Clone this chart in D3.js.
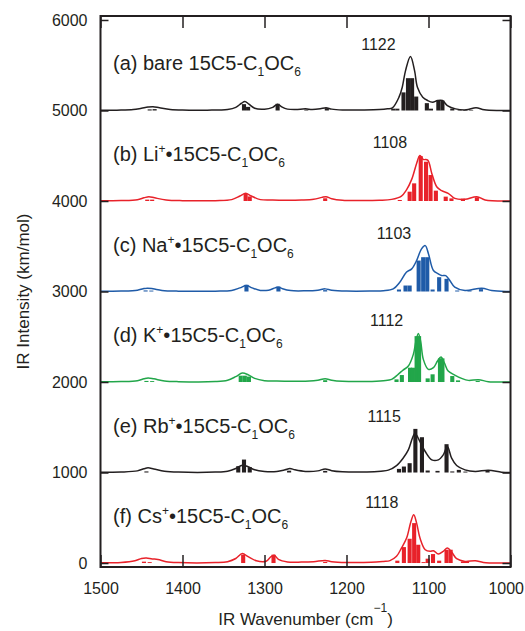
<!DOCTYPE html>
<html>
<head>
<meta charset="utf-8">
<script src="https://cdn.jsdelivr.net/npm/d3@7"></script>
<style>
  html, body { margin: 0; padding: 0; background: #fff; }
  svg { display: block; font-family: "Liberation Sans", Arial, Helvetica, sans-serif; }
</style>
</head>
<body>
<svg id="chart" width="525" height="631"></svg>
<script>
// Axis ticks
const wavenumberTicks = [1500, 1400, 1300, 1200, 1100, 1000];
const intensityTicks = [0, 1000, 2000, 3000, 4000, 5000, 6000];

// Panels, stacked with a vertical offset each
const panelLetters = ["a", "b", "c", "d", "e", "f"];
const panelIons = [null, "Li", "Na", "K", "Rb", "Cs"];
const panelOffsets = [5000, 4000, 3000, 2000, 1000, 0];
const peakLabels = [1122, 1108, 1103, 1112, 1115, 1118];

// Broadened spectra: [wavenumber (cm-1), intensity (km/mol)]
const curveA = [[1500,2],[1480,4],[1460,10],[1450,25],[1442,38],[1436,42],[1428,30],[1415,12],[1400,5],[1370,4],[1345,12],[1335,35],[1328,80],[1324,100],[1319,70],[1312,25],[1300,15],[1290,35],[1284,70],[1279,40],[1272,15],[1262,10],[1250,18],[1242,10],[1232,18],[1225,30],[1218,15],[1205,6],[1180,6],[1160,10],[1150,18],[1144,29],[1136,147],[1132,257],[1128,441],[1122,596],[1117,441],[1113.5,257],[1107,147],[1101,110],[1095,92],[1089,110],[1083,110],[1077,55],[1067,18],[1054,7],[1042,29],[1032,7],[1013,0],[1000,0]];
const curveB = [[1500,2],[1475,5],[1455,15],[1447,35],[1441,48],[1434,35],[1420,12],[1400,4],[1360,4],[1340,15],[1330,55],[1323,85],[1316,55],[1305,15],[1290,10],[1275,8],[1255,10],[1240,18],[1230,40],[1225,48],[1218,25],[1205,8],[1180,5],[1160,8],[1145,18],[1133,55],[1127,121],[1120.5,239],[1114.5,415],[1110.5,504],[1106.5,460],[1101,452],[1096,305],[1090,158],[1084,114],[1076,85],[1068,29],[1055.5,18],[1041,48],[1031,11],[1003,0],[1000,0]];
const curveC = [[1500,2],[1475,5],[1455,15],[1448,30],[1443,37],[1436,30],[1425,12],[1405,4],[1360,4],[1340,12],[1330,40],[1322,66],[1315,40],[1305,12],[1295,15],[1287,40],[1283,48],[1278,30],[1268,10],[1250,8],[1235,15],[1226,29],[1218,15],[1200,5],[1170,5],[1155,8],[1143,29],[1135,103],[1127,213],[1120.5,250],[1114.5,342],[1108.5,471],[1104,507],[1100,415],[1094,232],[1088,195],[1084,176],[1079,176],[1074,121],[1068,48],[1055.5,11],[1035,37],[1023,11],[1005,0],[1000,0]];
const curveD = [[1500,2],[1475,5],[1455,15],[1447,35],[1442,44],[1435,35],[1422,12],[1405,4],[1360,5],[1345,20],[1335,60],[1327,99],[1320,80],[1312,40],[1300,15],[1285,10],[1265,8],[1245,10],[1235,20],[1226,37],[1218,20],[1205,8],[1175,6],[1155,15],[1145,29],[1137,85],[1131,132],[1124.6,176],[1118.5,305],[1115.3,452],[1112.4,537],[1109.6,452],[1106.3,250],[1100.2,140],[1094,158],[1089,232],[1084.8,276],[1080.7,213],[1076,121],[1068,77],[1059.6,40],[1051.4,18],[1039,26],[1027,4],[1005,0],[1000,0]];
const curveE = [[1500,2],[1475,5],[1455,18],[1447,42],[1442,52],[1435,40],[1422,15],[1405,5],[1360,5],[1345,15],[1335,45],[1327,81],[1320,65],[1312,30],[1300,12],[1285,12],[1275,30],[1269,44],[1263,30],[1250,12],[1235,18],[1226,40],[1218,20],[1205,8],[1175,6],[1158,15],[1149,26],[1139,77],[1131,158],[1124.6,250],[1119.7,379],[1116.5,434],[1110.4,342],[1104,232],[1096,140],[1088,140],[1082,195],[1077,287],[1071.8,158],[1065.7,77],[1055.5,29],[1043,11],[1027,26],[1011,4],[1000,0]];
const curveF = [[1500,2],[1475,6],[1458,25],[1450,50],[1444,55],[1437,45],[1430,40],[1420,15],[1405,5],[1360,5],[1345,15],[1335,50],[1327,105],[1320,70],[1310,25],[1298,20],[1292,70],[1288,85],[1283,40],[1272,12],[1255,10],[1240,15],[1226,29],[1218,15],[1200,6],[1170,8],[1155,18],[1147,26],[1139,74],[1133,165],[1126.7,276],[1121.4,460],[1118,533],[1114.5,441],[1110.4,276],[1104,147],[1098,129],[1094,136],[1088,99],[1082,129],[1077,165],[1071.8,121],[1065.7,48],[1055.5,18],[1043,26],[1033,7],[1010,0],[1000,0]];

// Binned stick spectra: [bin centre (cm-1), intensity (km/mol)]
const barsA = [[1440,12],[1434,15],[1325,70],[1320,40],[1284,74],[1249,10],[1224,25],[1143,20],[1138,20],[1130.5,200],[1125,357],[1120,357],[1115,154],[1102,81],[1097,20],[1088,110],[1083,110],[1071,20],[1062,6],[1055,6],[1048,6]];
const barsB = [[1443,15],[1437,15],[1323,77],[1318,50],[1226,30],[1135,11],[1123,103],[1117.5,195],[1109.5,496],[1103,434],[1097.5,287],[1091,114],[1079,48],[1072,29],[1058,26],[1041,40]];
const barsC = [[1445,12],[1438,10],[1322,74],[1283,55],[1226,15],[1136,22],[1128,66],[1123,66],[1112,342],[1106.5,379],[1101.5,379],[1095,22],[1087,158],[1078,140],[1065,11],[1050,11],[1036,26]];
const barsD = [[1444,12],[1437,10],[1329,70],[1324,70],[1319,60],[1226,20],[1139,29],[1132.5,77],[1122.5,158],[1119,158],[1114.5,507],[1111.5,507],[1101,40],[1095,85],[1086,261],[1083,261],[1071,66],[1064,18],[1040,12]];
const barsE = [[1444,12],[1332,70],[1325,143],[1318,60],[1270,20],[1226,18],[1136,40],[1130,66],[1123,103],[1116,482],[1108,390],[1101,22],[1089,18],[1078,313],[1071,12],[1063,29],[1055,10],[1028,22]];
const barsF = [[1447,15],[1440,10],[1326,92],[1289,92],[1226,12],[1138,26],[1130,176],[1123,268],[1117.5,441],[1112.5,202],[1106,10],[1101,48],[1094.5,99],[1087,26],[1078,147],[1073,147],[1058,18],[1053,18]];

const panelCurves = [curveA, curveB, curveC, curveD, curveE, curveF];
const panelBars = [barsA, barsB, barsC, barsD, barsE, barsF];
const panelColors = ["#231f20", "#e8222a", "#1f5ba8", "#22a64a", "#231f20", "#e8222a"];

const binWidth = 5; // cm-1

const svg = d3.select("#chart");
const plotLeft = 100.5, plotRight = 510.5, plotTop = 16, plotBottom = 567;

const x = d3.scaleLinear().domain([1500, 1000]).range([plotLeft, plotRight]);
const y = d3.scaleLinear().domain([-44, 6044]).range([plotBottom, plotTop]);

const line = d3.line()
  .x(d => x(d[0]))
  .y(d => d.y)
  .curve(d3.curveCatmullRom.alpha(0.5));

// Spectra
panelLetters.forEach((letter, i) => {
  const off = panelOffsets[i];
  const color = panelColors[i];
  const g = svg.append("g").attr("class", "panel-" + letter);

  g.selectAll("rect")
    .data(panelBars[i])
    .join("rect")
    .attr("x", d => x(d[0] + binWidth / 2))
    .attr("width", d => x(d[0] - binWidth / 2) - x(d[0] + binWidth / 2))
    .attr("y", d => y(off + d[1]))
    .attr("height", d => y(off) - y(off + d[1]))
    .attr("fill", color);

  const pts = panelCurves[i].map(d => Object.assign([d[0], d[1]], { y: y(off + d[1]) }));
  g.append("path")
    .attr("d", line(pts))
    .attr("fill", "none")
    .attr("stroke", color)
    .attr("stroke-width", 1.5)
    .attr("stroke-linejoin", "round");

  // panel title
  const t = g.append("text")
    .attr("x", 113)
    .attr("y", y(off) - 40)
    .attr("font-size", 20)
    .attr("fill", "#231f20");
  t.append("tspan").text(`(${letter}) `);
  if (panelIons[i]) {
    t.append("tspan").text(panelIons[i]);
    t.append("tspan").attr("font-size", 12).attr("dy", -8).text("+");
    t.append("tspan").attr("dy", 8).text("\u2022");
  } else {
    t.append("tspan").text("bare ");
  }
  t.append("tspan").text("15C5-C");
  t.append("tspan").attr("font-size", 12).attr("dy", 6).text("1");
  t.append("tspan").attr("dy", -6).text("OC");
  t.append("tspan").attr("font-size", 12).attr("dy", 6).text("6");

  // peak position label
  const peakMax = d3.max(panelCurves[i], d => d[1]);
  const barMax = d3.max(panelBars[i], d => d[1]);
  g.append("text")
    .attr("x", x(peakLabels[i]) - 32)
    .attr("y", y(off + Math.max(peakMax, barMax)) - 7)
    .attr("text-anchor", "middle")
    .attr("font-size", 16)
    .attr("fill", "#231f20")
    .text(peakLabels[i]);
});

// Frame
svg.append("rect")
  .attr("x", plotLeft).attr("y", plotTop)
  .attr("width", plotRight - plotLeft).attr("height", plotBottom - plotTop)
  .attr("fill", "none")
  .attr("stroke", "#231f20")
  .attr("stroke-width", 2);

// Axes with inward ticks
const gxb = svg.append("g").attr("transform", `translate(0,${plotBottom})`)
  .call(d3.axisBottom(x).tickValues(wavenumberTicks).tickSize(-12).tickPadding(16).tickFormat(d3.format("d")));
const gxt = svg.append("g").attr("transform", `translate(0,${plotTop})`)
  .call(d3.axisTop(x).tickValues(wavenumberTicks).tickSize(-12).tickFormat(""));
const gyl = svg.append("g").attr("transform", `translate(${plotLeft},0)`)
  .call(d3.axisLeft(y).tickValues(intensityTicks).tickSize(-8).tickPadding(13).tickFormat(d3.format("d")));
const gyr = svg.append("g").attr("transform", `translate(${plotRight},0)`)
  .call(d3.axisRight(y).tickValues(intensityTicks).tickSize(-8).tickFormat(""));

[gxb, gxt, gyl, gyr].forEach(g => {
  g.select(".domain").remove();
  g.selectAll(".tick line").attr("stroke", "#231f20").attr("stroke-width", 1.5);
  g.selectAll(".tick text")
    .attr("font-family", "Liberation Sans, Arial, sans-serif")
    .attr("font-size", 16)
    .attr("fill", "#231f20");
});
// keep the last wavenumber label inside the page
gxb.selectAll(".tick text").filter(d => d === 1000).attr("text-anchor", "end").attr("dx", 13);

// Axis titles
const xt = svg.append("text")
  .attr("x", (plotLeft + plotRight) / 2)
  .attr("y", 625)
  .attr("text-anchor", "middle")
  .attr("font-size", 17)
  .attr("fill", "#231f20");
xt.append("tspan").text("IR Wavenumber (cm");
xt.append("tspan").attr("font-size", 12).attr("dy", -13).text("\u22121");
xt.append("tspan").attr("dy", 13).text(")");

svg.append("text")
  .attr("transform", `translate(29,${(plotTop + plotBottom) / 2}) rotate(-90)`)
  .attr("text-anchor", "middle")
  .attr("font-size", 17)
  .attr("fill", "#231f20")
  .text("IR Intensity (km/mol)");
</script>
</body>
</html>
